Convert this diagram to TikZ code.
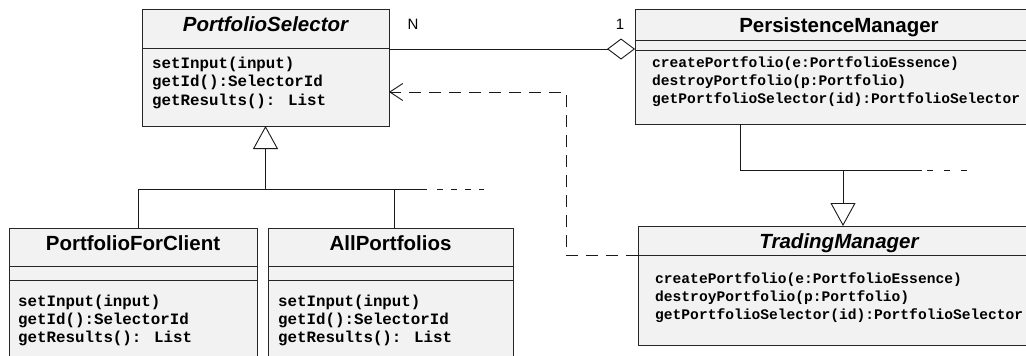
\documentclass[tikz,border=0pt]{standalone}
\usepackage{fontspec}
\newfontfamily\clsfont{Liberation Sans}
\newfontfamily\opfont{Liberation Mono}
\usetikzlibrary{arrows.meta,positioning}
\tikzset{
  umlbox/.style={draw=black!85, fill=black!5, line width=1pt, anchor=north west, inner sep=0pt, outer sep=0pt},
  sepline/.style={draw=black!85, line width=1pt},
  clsname/.style={font=\clsfont\bfseries\fontsize{20.5}{24}\selectfont, anchor=base, inner sep=0pt},
  absname/.style={font=\clsfont\bfseries\itshape\fontsize{20.5}{24}\selectfont, anchor=base, inner sep=0pt},
  opline/.style={font=\opfont\bfseries\fontsize{15.8}{18}\selectfont, anchor=base west, inner sep=0pt},
  opsmall/.style={font=\opfont\bfseries\fontsize{14.6}{18}\selectfont, anchor=base west, inner sep=0pt},
  mult/.style={font=\clsfont\fontsize{15}{18}\selectfont, anchor=base, inner sep=0pt},
  conn/.style={draw=black!90, line width=0.9pt},
  tail/.style={conn, dash pattern=on 6pt off 8pt},
}
\begin{document}
\begin{tikzpicture}[x=1pt,y=-1pt]
\useasboundingbox (0,0) rectangle (1026,356);
% class boxes
\node[umlbox, minimum width=247pt, minimum height=117pt] (sel) at (142,9) {};
\node[umlbox, minimum width=248pt, minimum height=142pt] (pfc) at (9,228) {};
\node[umlbox, minimum width=245pt, minimum height=142pt] (allp) at (268,228) {};
\node[umlbox, minimum width=408pt, minimum height=115pt] (pers) at (635,9) {};
\node[umlbox, minimum width=402pt, minimum height=119pt] (trad) at (638,226) {};
% compartments
\draw[sepline] ([yshift=-39pt]sel.north west) -- ([yshift=-39pt]sel.north east);
\foreach \b in {pfc,allp} {
  \draw[sepline] ([yshift=-38pt]\b.north west) -- ([yshift=-38pt]\b.north east);
  \draw[sepline] ([yshift=-52pt]\b.north west) -- ([yshift=-52pt]\b.north east);
}
\draw[sepline] ([yshift=-31pt]pers.north west) -- ([yshift=-31pt]pers.north east);
\draw[sepline] ([yshift=-41pt]pers.north west) -- ([yshift=-41pt]pers.north east);
\draw[sepline] ([yshift=-29pt]trad.north west) -- ([yshift=-29pt]trad.north east);
% class names
\node[absname] (selname) at ([yshift=-22pt]sel.north) {PortfolioSelector};
\node[clsname] (pfcname) at ([yshift=-22pt]pfc.north) {PortfolioForClient};
\node[clsname] (allpname) at ([yshift=-22pt]allp.north) {AllPortfolios};
\node[clsname] (persname) at ([yshift=-23pt]pers.north) {PersistenceManager};
\node[absname] (tradname) at ([yshift=-22pt]trad.north) {TradingManager};
% operations
\foreach \op [count=\i] in {setInput(input), getId():SelectorId, getResults(): List} {
  \node[opline] (selop\i) at (152,{49.5+18.5*\i}) {\op};
  \node[opline] (pfcop\i) at (18,{288+18*\i}) {\op};
  \node[opline] (allpop\i) at (278,{288+18*\i}) {\op};
}
\foreach \op [count=\i] in {createPortfolio(e:PortfolioEssence), destroyPortfolio(p:Portfolio), getPortfolioSelector(id):PortfolioSelector} {
  \node[opsmall] (persop\i) at (652,{49+18*\i}) {\op};
  \node[opsmall] (tradop\i) at (655,{265+18*\i}) {\op};
}
% aggregation
\draw[conn, -{Diamond[open,length=28pt,width=21pt]}] ([yshift=-40pt]sel.north east) -- ([yshift=-40pt]pers.north west);
\node[mult] (multN) at (413,29.5) {N};
\node[mult] (mult1) at (620,30) {1};
% dependency
\coordinate (depBend) at (566,92);
\draw[conn, dash pattern=on 12pt off 8pt, -{Straight Barb[length=13pt,width=17pt]}]
  ([yshift=-29pt]trad.north west) -| (depBend) -- (depBend -| sel.east);
% generalization to PortfolioSelector
\coordinate (selJ) at ([yshift=-63pt]sel.south);
\coordinate (selSolid) at (427,189);
\coordinate (selTail) at (484,189);
\draw[conn, -{Triangle[open,length=23pt,width=25pt]}] (selJ) -- (sel.south);
\draw[conn] ([xshift=5pt]pfc.north) |- (selSolid);
\draw[conn] ([xshift=3.5pt]allp.north) -- ++(0,-39);
\draw[tail] ([xshift=10pt]selSolid) -- (selTail);
% generalization to TradingManager
\coordinate (tradJ) at ([xshift=4pt,yshift=56pt]trad.north);
\coordinate (tradSolid) at (922,170);
\coordinate (tradTail) at (969,170);
\draw[conn, -{Triangle[open,length=23pt,width=25pt]}] (tradJ) -- ([xshift=4pt]trad.north);
\draw[conn] ([xshift=105pt]pers.south west) |- (tradSolid);
\draw[tail, dash pattern=on 6pt off 11pt] ([xshift=5pt]tradSolid) -- (tradTail);
\end{tikzpicture}
\end{document}
